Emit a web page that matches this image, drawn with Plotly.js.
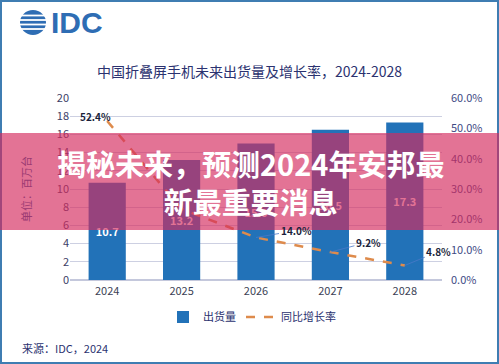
<!DOCTYPE html>
<html><head><meta charset="utf-8">
<script src="https://cdn.plot.ly/plotly-3.0.1.min.js"></script>
<style>html,body{margin:0;padding:0;background:#fff;}#chart{width:499px;height:364px;}</style>
</head><body><div id="chart"></div>
<script>
// ---- data ----
const years = ['2024', '2025', '2026', '2027', '2028'];
const shipments = [10.7, 13.2, 15.0, 16.5, 17.3];      // 出货量 (百万台)
const growth = [52.4, 23.4, 14.0, 9.2, 4.8];           // 同比增长率 (%)
const labelledGrowth = [0, 2, 3, 4];                   // indices whose % label is shown
const leftTicks = [0, 2, 4, 6, 8, 10, 12, 14, 16, 18, 20];
const rightTicks = [0, 10, 20, 30, 40, 50, 60];

// ---- layout helpers (pixel -> paper) ----
const L = 70, R = 442, T = 98, B = 280;
const px = v => (v - L) / (R - L);
const py = v => (B - v) / (B - T);
const FONT = '"Noto Sans CJK SC", "Noto Sans", sans-serif';
const NAVY = '#2B3270';

const traces = [
  {
    type: 'bar', name: '出货量', x: years, y: shipments, xaxis: 'x', yaxis: 'y',
    marker: {color: '#2272B8'},
    texttemplate: '%{y:.1f}', textposition: 'inside', insidetextanchor: 'middle',
    textfont: {color: '#ffffff', size: 11, family: FONT, weight: 'bold'}
  },
  {
    type: 'scatter', mode: 'lines', name: '同比增长率', x: years, y: growth, xaxis: 'x', yaxis: 'y2',
    line: {color: '#DE8B4C', width: 2.5, dash: 'dash'}
  }
];

const labelOffsets = {0: null, 2: [40, -7], 3: [38, -10], 4: [34, -14]};
const annotations = labelledGrowth.map(i => {
  const base = {
    x: i, y: growth[i], xref: 'x', yref: 'y2',
    text: growth[i].toFixed(1) + '%',
    font: {size: 10, color: '#1B1F3B', family: FONT, weight: 'bold'}
  };
  if (!labelOffsets[i]) {
    return Object.assign(base, {showarrow: false, xanchor: 'right', xshift: 6, yshift: 5});
  }
  return Object.assign(base, {
    showarrow: true, arrowhead: 0, arrowwidth: 0.8, arrowcolor: '#4A78C8',
    standoff: 0, ax: labelOffsets[i][0], ay: labelOffsets[i][1]
  });
});

annotations.push({
  xref: 'paper', yref: 'paper', x: px(49), y: py(23), xanchor: 'left', yanchor: 'middle',
  text: 'IDC', showarrow: false,
  font: {family: '"Liberation Sans", Arial, sans-serif', size: 30, color: '#2E6DB4', weight: 'bold'}
});
annotations.push({
  xref: 'paper', yref: 'paper', x: px(20), y: py(348), xanchor: 'left', yanchor: 'middle',
  text: '来源：IDC，2024', showarrow: false,
  font: {family: FONT, size: 11, color: NAVY}
});
annotations.push({
  xref: 'paper', yref: 'paper', x: px(250), y: py(182), xanchor: 'center', yanchor: 'middle',
  text: '揭秘未来，预测2024年安邦最<br>新最重要消息', showarrow: false, align: 'center',
  font: {family: FONT, size: 29, color: '#ffffff', weight: 'bold'}
});

const shapes = [
  {type: 'rect', xref: 'paper', yref: 'paper', x0: px(1), x1: px(498), y0: py(363), y1: py(1),
   line: {color: '#3F7DB2', width: 2}, fillcolor: 'rgba(0,0,0,0)', layer: 'below'},
  {type: 'circle', xref: 'paper', yref: 'paper', x0: px(20), x1: px(46), y0: py(35), y1: py(10),
   fillcolor: '#2E6DB4', line: {width: 0}},
];
[15.5, 20, 24.5, 29].forEach(yy => shapes.push({
  type: 'rect', xref: 'paper', yref: 'paper', x0: px(18), x1: px(48), y0: py(yy + 0.9), y1: py(yy - 0.9),
  fillcolor: '#ffffff', line: {width: 0}
}));
shapes.push({type: 'rect', xref: 'paper', yref: 'paper', x0: px(-2), x1: px(501), y0: py(230), y1: py(133),
  fillcolor: 'rgba(212,42,94,0.66)', line: {width: 0}, layer: 'above'});

const layout = {
  width: 499, height: 364,
  margin: {l: L, r: 499 - R, t: T, b: 364 - B},
  paper_bgcolor: '#ffffff', plot_bgcolor: '#ffffff',
  font: {family: FONT, color: NAVY},
  title: {
    text: '中国折叠屏手机未来出货量及增长率，2024-2028',
    font: {family: FONT, size: 14, color: NAVY},
    x: 0.5, xref: 'container', xanchor: 'center',
    y: 1 - 72 / 364, yref: 'container', yanchor: 'middle'
  },
  bargap: 0.5,
  showlegend: true,
  legend: {
    orientation: 'h', x: px(252), xanchor: 'center', y: py(317), yanchor: 'middle',
    font: {family: FONT, size: 11, color: NAVY}
  },
  xaxis: {
    type: 'category', categoryorder: 'array', categoryarray: years, range: [-0.5, 4.5],
    tickfont: {size: 11, color: '#3C3F55', family: FONT},
    showgrid: false, showline: false, ticks: '', ticklabelstandoff: 3
  },
  yaxis: {
    range: [0, 20], tickvals: leftTicks,
    tickfont: {size: 11, color: '#3C4066', family: FONT},
    gridcolor: '#CDD0E2', gridwidth: 1, zeroline: true, zerolinecolor: '#C4C8DC', zerolinewidth: 1.5,
    showline: false, ticks: '',
    title: {text: '单位：百万台', font: {size: 11, color: '#9A3A72', family: FONT}, standoff: 22}
  },
  yaxis2: {
    overlaying: 'y', side: 'right', range: [0, 60], tickvals: rightTicks,
    ticktext: rightTicks.map(v => v.toFixed(1) + '%'),
    tickfont: {size: 11, color: '#3E4A84', family: FONT},
    showgrid: false, zeroline: false, showline: false, ticks: '', ticklabelstandoff: 8
  },
  annotations: annotations,
  shapes: shapes
};

Plotly.newPlot('chart', traces, layout, {displayModeBar: false, staticPlot: true});
</script>
</body></html>
